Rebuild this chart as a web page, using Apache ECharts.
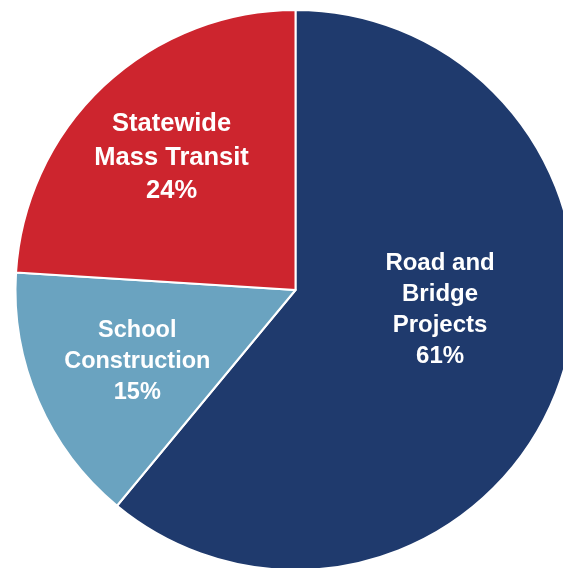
<!DOCTYPE html>
<html>
<head>
<meta charset="utf-8">
<script src="https://cdn.jsdelivr.net/npm/echarts@6/dist/echarts.min.js"></script>
<style>
  html, body { margin: 0; padding: 0; background: #ffffff; }
  #chart { width: 563px; height: 568px; }
</style>
</head>
<body>
<div id="chart"></div>
<script>
// Shares of program funding
const categories = ['Road and\nBridge\nProjects', 'School\nConstruction', 'Statewide\nMass Transit'];
const shares = [61, 15, 24];
const colors = ['#1F3A6D', '#6AA3C0', '#CD252E'];
// Nudges of each inside label away from the slice midpoint
const labelOffsets = [[10, -29], [-27, 15], [-26, -28]];
const lineHeights = [31, 31, 33.5];
const fontSizes = [24, 23.5, 25.5];

const chart = echarts.init(document.getElementById('chart'), null, { renderer: 'canvas' });

const data = categories.map((name, i) => ({
  name: name,
  value: shares[i],
  itemStyle: { color: colors[i] },
  label: { offset: labelOffsets[i], lineHeight: lineHeights[i], fontSize: fontSizes[i] }
}));

chart.setOption({
  animation: false,
  backgroundColor: '#ffffff',
  series: [{
    type: 'pie',
    center: [295.5, 290],
    radius: [0, 280],
    startAngle: 90,
    clockwise: true,
    avoidLabelOverlap: false,
    itemStyle: { borderColor: '#ffffff', borderWidth: 2 },
    label: {
      show: true,
      position: 'inside',
      formatter: p => p.name + '\n' + p.value + '%',
      color: '#ffffff',
      fontFamily: "'Liberation Sans', Arial, sans-serif",
      fontWeight: 'bold',
      fontSize: 23.5,
      align: 'center'
    },
    labelLine: { show: false },
    emphasis: { disabled: true },
    data: data
  }]
});
</script>
</body>
</html>
